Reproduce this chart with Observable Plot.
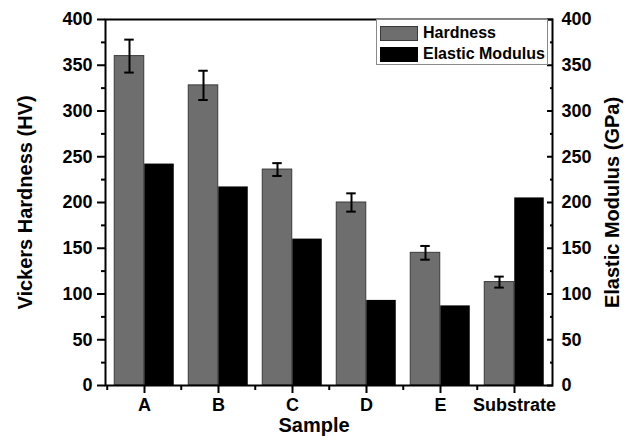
<!DOCTYPE html>
<html><head><meta charset="utf-8">
<script src="https://cdn.jsdelivr.net/npm/d3@7"></script>
<script src="https://cdn.jsdelivr.net/npm/@observablehq/plot@0.6"></script>
<style>
body{margin:0;background:#fff;}
#wrap{position:relative;width:634px;height:440px;font-family:"Liberation Sans",Arial,sans-serif;}
#wrap svg{position:absolute;left:0;top:0;}
.legend{position:absolute;left:376px;top:19px;width:172px;height:46px;border:1px solid #8a8a8a;background:#fff;box-sizing:border-box;}
.item{position:absolute;left:3px;display:flex;align-items:center;font-weight:bold;font-size:16px;line-height:16px;color:#000;white-space:nowrap;}
.sw{width:38px;height:15px;margin-right:5px;box-sizing:border-box;flex:none;}
</style></head><body><div id="wrap"></div>
<script>
const samples = ["A", "B", "C", "D", "E", "Substrate"];
const hardness = [360, 328, 236, 200, 145, 113];
const hardnessErr = [18, 16, 7, 10, 7.5, 6];
const modulus = [242, 217, 160, 93, 87, 205];
const yTicks = [0, 50, 100, 150, 200, 250, 300, 350, 400];
const yMinorTicks = [25, 75, 125, 175, 225, 275, 325, 375];
const seriesNames = ["Hardness", "Elastic Modulus"];
const seriesColors = ["#6e6e6e", "#000000"];

const rows = samples.map((s, i) => ({sample: s, hardness: hardness[i], err: hardnessErr[i], modulus: modulus[i]}));

const W = 634, H = 440, mL = 105, mR = 82, mT = 19, mB = 55;
const bw = (W - mL - mR) / samples.length;
const barW = 30;
const gap = (bw - 2 * barW) / 2;

const plot = Plot.plot({
  width: W, height: H,
  marginLeft: mL, marginRight: mR, marginTop: mT, marginBottom: mB,
  style: {fontFamily: "'Liberation Sans', Arial, sans-serif", fontWeight: "bold", fontSize: "18px", background: "#fff", color: "#000"},
  x: {domain: samples, padding: 0},
  y: {domain: [0, 400]},
  marks: [
    Plot.barY(rows, {x: "sample", y: "hardness", fill: seriesColors[0], stroke: "#3a3a3a", strokeWidth: 1, insetLeft: gap, insetRight: gap + barW}),
    Plot.barY(rows, {x: "sample", y: "modulus", fill: seriesColors[1], insetLeft: gap + barW, insetRight: gap}),
    Plot.ruleX(rows, {x: "sample", y1: d => d.hardness - d.err, y2: d => d.hardness + d.err, dx: -barW / 2, strokeWidth: 2}),
    Plot.tickY(rows, {x: "sample", y: d => d.hardness + d.err, dx: -barW / 2, insetLeft: bw / 2 - 5, insetRight: bw / 2 - 5, strokeWidth: 2}),
    Plot.tickY(rows, {x: "sample", y: d => d.hardness - d.err, dx: -barW / 2, insetLeft: bw / 2 - 5, insetRight: bw / 2 - 5, strokeWidth: 2}),
    Plot.frame({strokeWidth: 2}),
    Plot.axisY({anchor: "left", ticks: yTicks, tickSize: 8, tickPadding: 5, label: null, strokeWidth: 2}),
    Plot.axisY({anchor: "left", ticks: yMinorTicks, tickSize: 4, text: null, label: null, strokeWidth: 2}),
    Plot.axisY({anchor: "right", ticks: yTicks, tickSize: 6, dx: -6, text: null, label: null, strokeWidth: 2}),
    Plot.axisY({anchor: "right", ticks: yMinorTicks, tickSize: 3, dx: -3, text: null, label: null, strokeWidth: 2}),
    Plot.axisY({anchor: "right", ticks: yTicks, tickSize: 0, tickPadding: 9, label: null}),
    Plot.axisX({anchor: "bottom", tickSize: 8, tickPadding: 5, label: null, strokeWidth: 2}),
    Plot.axisX({anchor: "bottom", tickSize: 5, dx: -bw / 2, text: null, label: null, strokeWidth: 2}),
    Plot.text(["Vickers Hardness (HV)"], {frameAnchor: "left", dx: -80, rotate: -90, textAnchor: "middle", lineAnchor: "middle", fontSize: 20, fontWeight: "bold"}),
    Plot.text(["Elastic Modulus (GPa)"], {frameAnchor: "right", dx: 60, rotate: -90, textAnchor: "middle", lineAnchor: "middle", fontSize: 20, fontWeight: "bold"}),
    Plot.text(["Sample"], {frameAnchor: "bottom", dy: 32, dx: -15, textAnchor: "middle", lineAnchor: "top", fontSize: 20, fontWeight: "bold"})
  ]
});

const wrap = document.getElementById("wrap");
wrap.appendChild(plot);
const legend = document.createElement("div");
legend.className = "legend";
seriesNames.forEach((name, i) => {
  const item = document.createElement("div");
  item.className = "item";
  item.style.top = (i === 0 ? 5 : 26) + "px";
  const sw = document.createElement("span");
  sw.className = "sw";
  sw.style.background = seriesColors[i];
  sw.style.border = "1px solid " + (i === 0 ? "#3a3a3a" : "#000");
  item.appendChild(sw);
  item.appendChild(document.createTextNode(name));
  legend.appendChild(item);
});
wrap.appendChild(legend);
</script>
</body></html>
